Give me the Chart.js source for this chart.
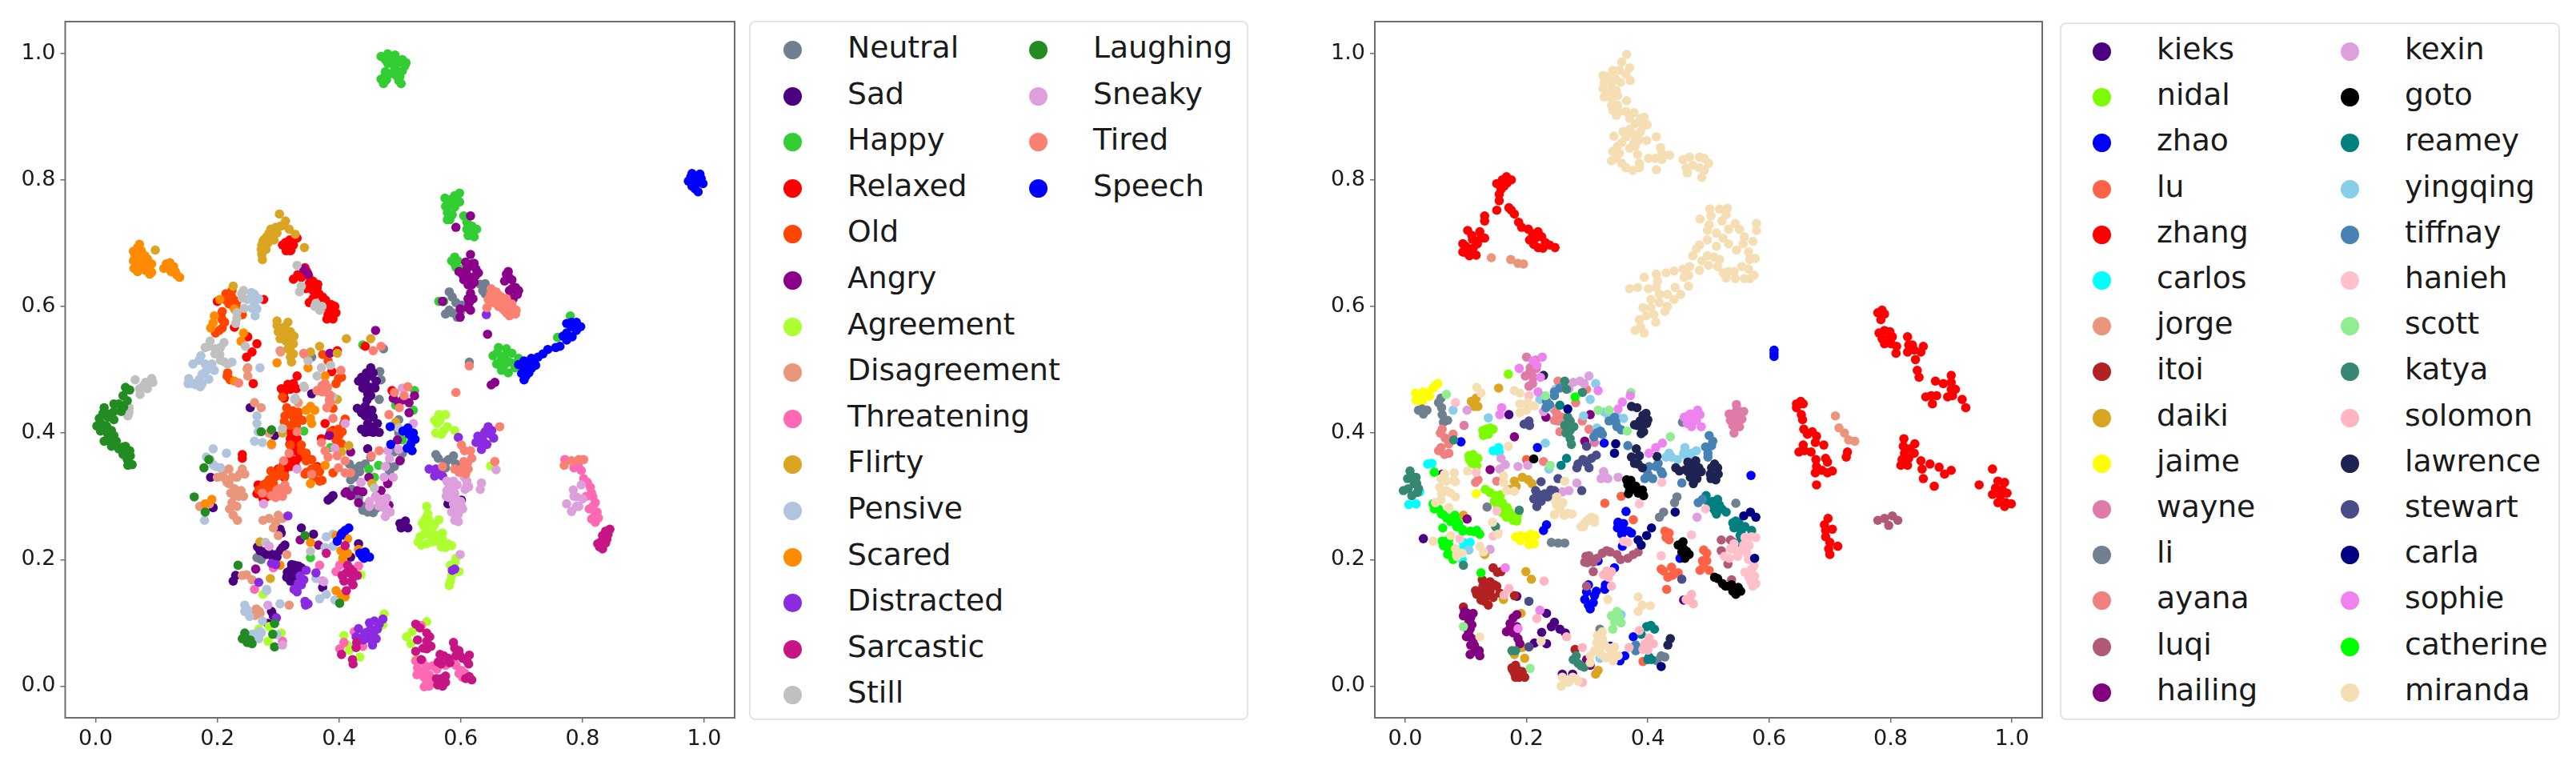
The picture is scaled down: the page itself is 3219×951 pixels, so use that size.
<!DOCTYPE html>
<html>
<head>
<meta charset="utf-8">
<title>Latent space scatter</title>
<script src="https://cdn.jsdelivr.net/npm/chart.js@4/dist/chart.umd.min.js"></script>
<style>
    html, body { margin: 0; padding: 0; background: #fff; }
    #figure { position: relative; width: 3219px; height: 951px; overflow: hidden; font-family: "DejaVu Sans", sans-serif; }
    canvas { position: absolute; top: 0; }
    #chartLeft { left: 0; }
    #chartRight { left: 1640px; }
    .legend { position: absolute; box-sizing: border-box; background: #fff; border: 2px solid #e4e4e4; border-radius: 8px; }
    #legendLeft { left: 936px; top: 26px; width: 624px; height: 874px; }
    #legendRight { left: 2574px; top: 28px; width: 625px; height: 872px; }
    .item { position: absolute; height: 50px; font-size: 37.7px; line-height: 50px; color: #1a1a1a; white-space: nowrap; }
    .dot { position: absolute; left: 0; top: 14px; width: 23px; height: 23px; border-radius: 50%; }
    .item span { position: absolute; left: 80px; top: -3px; }
</style>
</head>
<body>
<div id="figure">
    <canvas id="chartLeft" width="930" height="951"></canvas>
    <div class="legend" id="legendLeft"></div>
    <canvas id="chartRight" width="930" height="951"></canvas>
    <div class="legend" id="legendRight"></div>
</div>
<script>
    'use strict';

    var tickValues = [0, 0.2, 0.4, 0.6, 0.8, 1.0];

    // ----------------------------
    // Left plot, by expression
    // ----------------------------
    var expressions = ['Neutral', 'Sad', 'Happy', 'Relaxed', 'Old', 'Angry', 'Agreement', 'Disagreement', 'Threatening',
        'Flirty', 'Pensive', 'Scared', 'Distracted', 'Sarcastic', 'Still', 'Laughing', 'Sneaky', 'Tired', 'Speech'];
    var expressionColors = ['#708090', '#4B0082', '#32CD32', '#FF0000', '#FF4500', '#8B008B', '#ADFF2F', '#E9967A', '#FF69B4',
        '#DAA520', '#B0C4DE', '#FF8C00', '#8A2BE2', '#C71585', '#C0C0C0', '#228B22', '#DDA0DD', '#FA8072', '#0000FF'];

    var neutral = [[.581,.623],[.586,.615],[.592,.606],[.601,.602],[.581,.594],[.594,.583],[.640,.636],[.636,.625],[.614,.512],[.473,.533],
        [.467,.497],[.469,.484],[.466,.453],[.498,.421],[.493,.410],[.500,.391],[.498,.400],[.452,.362],[.443,.351],[.434,.339],[.491,.347],
        [.504,.368],[.483,.339],[.419,.326],[.426,.343],[.417,.351],[.419,.305],[.443,.284],[.439,.280],[.439,.278],[.456,.274],[.469,.284],
        [.428,.305],[.421,.311],[.559,.366],[.575,.354],[.588,.364],[.592,.351],[.272,.200],[.265,.203],[.355,.520],
        [.586,.590],[.600,.592],[.575,.588],[.640,.620],[.632,.635],[.563,.360],[.580,.358],[.610,.345],[.575,.345],[.460,.280],[.447,.275],
        [.432,.297],[.490,.370],[.480,.348],[.434,.348],[.425,.330],[.501,.358]];
    var sad = [[.452,.503],[.452,.490],[.443,.482],[.432,.482],[.461,.482],[.439,.471],[.452,.472],[.452,.459],[.430,.439],[.443,.442],
        [.454,.436],[.443,.427],[.456,.425],[.447,.415],[.463,.415],[.443,.401],[.456,.401],[.466,.401],[.254,.440],[.294,.396],[.355,.462],
        [.189,.330],[.193,.282],[.447,.375],[.382,.294],[.390,.301],[.386,.297],[.500,.257],[.509,.261],[.513,.250],[.502,.250],[.338,.250],
        [.303,.248],[.305,.242],[.432,.225],[.358,.240],[.307,.219],[.311,.223],[.270,.214],[.281,.208],[.290,.206],[.298,.204],[.327,.191],
        [.320,.183],[.318,.172],[.329,.181],[.338,.187],[.320,.166],[.327,.170],[.373,.156],[.289,.118],[.292,.111],[.283,.099],[.230,.175],
        [.226,.166],[.419,.204],[.579,.288],[.601,.294],
        [.448,.432],[.437,.432],[.452,.410],[.437,.406],[.450,.402],[.460,.402],[.446,.452],[.445,.495],[.456,.495],[.445,.474],[.459,.471],
        [.447,.462],[.437,.488],[.322,.192],[.333,.190],[.315,.180],[.325,.178],[.323,.166],[.330,.176],[.314,.172],[.276,.212],[.285,.212],
        [.296,.208],[.266,.220],[.304,.215]];
    var happy = [[.480,.999],[.469,.995],[.492,.997],[.504,.990],[.508,.980],[.480,.984],[.492,.976],[.476,.971],[.469,.959],[.473,.952],
        [.500,.963],[.502,.952],[.488,.988],[.574,.771],[.598,.779],[.582,.760],[.598,.765],[.578,.748],[.582,.737],[.605,.743],[.618,.727],
        [.618,.716],[.590,.678],[.590,.667],[.598,.659],[.572,.608],[.780,.585],[.759,.551],[.662,.535],[.653,.522],[.675,.533],[.684,.526],
        [.667,.516],[.680,.512],[.667,.499],[.689,.503],[.342,.403],[.449,.343],[.465,.349],[.458,.330],[.524,.467],[.522,.436],[.493,.444],
        [.439,.539],[.386,.377],[.504,.389],[.564,.608],[.353,.203],
        [.476,.990],[.486,.984],[.498,.986],[.486,.968],[.494,.965],[.504,.972],[.474,.962],[.478,.958],[.498,.957],[.510,.985],
        [.586,.770],[.590,.775],[.590,.757],[.575,.758],[.586,.745],[.578,.737],[.610,.733],[.610,.722],[.626,.722],[.622,.710],[.612,.712],
        [.585,.672],[.595,.672],[.592,.662],[.672,.522],[.660,.527],[.695,.518],[.672,.508],[.659,.509],[.690,.510],[.678,.495],[.698,.510]];
    var relaxed = [[.311,.699],[.325,.697],[.320,.688],[.307,.697],[.312,.701],[.331,.708],[.321,.689],[.344,.661],[.325,.643],[.338,.646],
        [.351,.636],[.364,.629],[.360,.619],[.373,.615],[.351,.606],[.382,.604],[.390,.596],[.390,.585],[.382,.587],[.368,.604],[.276,.611],
        [.200,.608],[.228,.567],[.265,.541],[.257,.528],[.248,.520],[.259,.478],[.250,.552],[.241,.366],[.241,.360],[.331,.490],[.325,.478],
        [.309,.463],[.320,.469],[.320,.402],[.320,.391],[.331,.391],[.333,.381],[.329,.356],[.320,.347],[.309,.351],[.300,.343],[.272,.314],
        [.281,.299],[.377,.415],[.371,.391],[.390,.404],[.397,.530],[.388,.497],[.487,.467],[.443,.537],[.364,.347],
        [.347,.655],[.332,.650],[.350,.648],[.357,.640],[.345,.628],[.355,.627],[.367,.620],[.378,.610],[.375,.600],[.387,.603],[.393,.600],
        [.385,.592],[.395,.590],[.380,.580],[.390,.580],[.365,.635],[.357,.612],[.316,.693],[.313,.688],[.319,.705],[.330,.470],[.316,.477],
        [.310,.455],[.305,.470],[.319,.382],[.327,.372],[.335,.362],[.320,.360],[.330,.345],[.310,.340],[.295,.335],[.280,.320],[.290,.310],
        [.310,.330],[.265,.304],[.275,.296],[.267,.318],[.287,.323]];
    var old = [[.224,.615],[.219,.604],[.232,.608],[.208,.592],[.208,.579],[.208,.566],[.197,.558],[.241,.587],[.224,.625],[.217,.495],
        [.221,.484],[.307,.457],[.314,.440],[.325,.425],[.311,.427],[.333,.425],[.320,.412],[.320,.381],[.338,.381],[.346,.368],[.346,.356],
        [.338,.372],[.355,.343],[.344,.335],[.368,.339],[.368,.324],[.303,.343],[.285,.326],[.276,.318],[.294,.330],[.285,.313],[.311,.332],
        [.386,.402],[.399,.406],[.395,.389],[.404,.383],[.390,.439],[.410,.422],[.399,.486],[.395,.478],[.404,.488],[.382,.514],[.373,.524],
        [.390,.337],
        [.214,.620],[.214,.610],[.226,.600],[.232,.598],[.206,.585],[.212,.575],[.203,.562],[.216,.490],[.316,.432],[.324,.435],[.333,.433],
        [.310,.418],[.330,.412],[.340,.420],[.327,.418],[.345,.365],[.355,.358],[.358,.330],[.362,.345],[.347,.338],[.372,.325],[.300,.333],
        [.292,.320],[.275,.308],[.283,.305],[.268,.310],[.288,.340],[.392,.396],[.400,.396],[.408,.415],[.405,.402]];
    var angry = [[.616,.682],[.618,.667],[.610,.659],[.625,.659],[.597,.655],[.605,.642],[.616,.646],[.629,.653],[.618,.634],[.616,.621],
        [.614,.606],[.616,.594],[.570,.608],[.599,.596],[.599,.583],[.675,.651],[.684,.642],[.680,.625],[.693,.619],[.616,.743],[.592,.725],
        [.342,.659],[.349,.651],[.460,.562],[.644,.556],[.656,.480],[.650,.476],[.385,.526],[.524,.459],[.489,.455],[.498,.448],[.515,.448],
        [.515,.432],[.504,.452],[.496,.389],[.500,.356],[.480,.322],[.384,.396],[.419,.370],[.410,.305],[.419,.301],[.430,.309],[.439,.307],
        [.432,.290],[.469,.309],[.449,.330],[.412,.307],[.480,.320],[.482,.286],[.366,.223],[.336,.231],[.263,.185],
        [.608,.670],[.622,.668],[.610,.650],[.624,.648],[.603,.650],[.612,.634],[.622,.638],[.612,.612],[.620,.612],[.612,.598],[.680,.645],
        [.672,.640],[.690,.630],[.684,.628],[.678,.655],[.686,.612],[.695,.625]];
    var agreement = [[.564,.429],[.575,.429],[.561,.415],[.559,.400],[.572,.404],[.590,.404],[.544,.284],[.542,.265],[.564,.263],[.540,.252],
        [.553,.250],[.548,.240],[.570,.242],[.533,.236],[.544,.225],[.561,.229],[.535,.223],[.575,.219],[.579,.225],[.592,.202],[.583,.191],
        [.597,.181],[.583,.166],[.581,.159],[.436,.176],[.275,.145],[.285,.094],[.283,.071],[.305,.084],[.268,.090],[.474,.114],[.472,.097],
        [.408,.080],[.414,.065],[.417,.057],[.434,.046],[.544,.102],[.511,.078],[.520,.086],[.518,.067],[.526,.042],[.649,.348],
        [.537,.258],[.546,.272],[.548,.262],[.557,.255],[.540,.240],[.555,.240],[.562,.238],[.530,.228],[.553,.228],[.570,.232],[.585,.222],
        [.568,.220],[.590,.195],[.585,.175],[.578,.410],[.566,.420],[.557,.420],[.568,.398]];
    var disagreement = [[.250,.503],[.250,.490],[.261,.448],[.272,.440],[.285,.400],[.289,.381],[.200,.330],[.210,.339],[.219,.343],[.224,.330],
        [.237,.335],[.241,.343],[.239,.309],[.228,.301],[.224,.290],[.232,.284],[.171,.284],[.187,.288],[.364,.467],[.333,.448],[.303,.530],
        [.285,.265],[.296,.259],[.307,.265],[.300,.238],[.314,.208],[.265,.118],[.270,.115],[.318,.128],[.241,.175],[.257,.168],[.269,.118],
        [.304,.528],[.343,.524],[.249,.501],
        [.205,.345],[.216,.322],[.210,.330],[.232,.330],[.219,.320],[.245,.335],[.220,.280],[.235,.300],[.243,.300],[.226,.270],[.233,.262],
        [.222,.305],[.228,.312],[.275,.262],[.292,.250],[.300,.270],[.248,.176],[.264,.122],[.258,.115],[.262,.112]];
    var threatening = [[.771,.358],[.798,.341],[.802,.328],[.813,.314],[.817,.299],[.817,.284],[.821,.271],[.821,.259],[.368,.191],[.395,.181],
        [.425,.086],[.439,.063],[.408,.069],[.401,.059],[.535,.096],[.529,.029],[.544,.031],[.535,.023],[.548,.018],[.544,.006],[.561,.027],
        [.588,.040],[.601,.025],[.603,.014],[.307,.071],[.292,.187],[.401,.191],[.432,.190],[.373,.166],[.261,.153],
        [.806,.300],[.821,.290],[.808,.322],[.811,.280],[.826,.266],[.824,.275],[.815,.305],[.786,.345],[.815,.264],[.793,.350],[.526,.040],
        [.537,.040],[.554,.032],[.528,.018],[.540,.014],[.554,.012],[.548,.000],[.540,-.001],[.575,.033],[.597,.020],[.607,.020],[.592,.033]];
    var flirty = [[.302,.746],[.312,.735],[.304,.727],[.288,.722],[.281,.710],[.292,.714],[.273,.697],[.273,.682],[.274,.674],[.328,.714],
        [.343,.693],[.098,.689],[.226,.632],[.298,.577],[.316,.575],[.307,.562],[.320,.560],[.303,.549],[.320,.547],[.316,.533],[.320,.520],
        [.322,.512],[.412,.549],[.452,.549],[.368,.537],[.397,.526],[.353,.528],[.397,.453],[.493,.417],[.307,.400],[.416,.380],[.404,.370],
        [.454,.320],[.287,.170],[.270,.228],
        [.308,.728],[.296,.725],[.298,.716],[.285,.716],[.276,.705],[.283,.700],[.272,.690],[.280,.690],[.275,.703],[.293,.705],[.318,.722],
        [.311,.568],[.300,.560],[.312,.555],[.326,.553],[.298,.570],[.313,.545],[.325,.541],[.320,.530],[.325,.525]];
    var pensive = [[.261,.619],[.250,.611],[.261,.606],[.265,.596],[.173,.522],[.160,.509],[.191,.509],[.182,.499],[.175,.493],[.153,.486],
        [.165,.476],[.175,.478],[.270,.503],[.224,.512],[.265,.427],[.265,.415],[.261,.387],[.274,.385],[.267,.402],[.193,.375],[.182,.362],
        [.197,.347],[.215,.368],[.379,.236],[.390,.240],[.390,.221],[.377,.219],[.362,.170],[.281,.151],[.368,.138],[.379,.145],[.393,.136],
        [.303,.130],[.274,.103],[.265,.078],[.272,.084],[.298,.081],[.245,.128],[.269,.086],[.257,.082],[.281,.153],[.179,.262],
        [.170,.515],[.180,.509],[.195,.499],[.170,.484],[.160,.478],[.172,.473],[.186,.485],[.152,.478],[.256,.622],[.268,.612],[.257,.597],
        [.262,.585],[.188,.358],[.193,.350],[.205,.345],[.272,.085],[.260,.076],[.268,.075],[.250,.120],[.253,.110],[.245,.118],[.258,.075]];
    var scared = [[.069,.693],[.065,.680],[.081,.680],[.069,.667],[.069,.655],[.089,.651],[.092,.667],[.116,.667],[.128,.663],[.124,.655],
        [.138,.646],[.080,.665],[.204,.611],[.195,.585],[.193,.574],[.189,.566],[.228,.596],[.243,.558],[.239,.545],[.298,.511],[.353,.442],
        [.346,.436],[.360,.436],[.353,.423],[.355,.415],[.349,.503],[.377,.490],[.228,.482],[.289,.383],[.377,.349],[.353,.320],[.353,.227],
        [.395,.238],[.414,.233],[.403,.214],[.414,.210],[.406,.202],[.432,.216],[.395,.151],[.403,.145],[.410,.141],[.303,.191],[.180,.288],
        [.191,.295],
        [.072,.698],[.062,.687],[.075,.688],[.085,.675],[.073,.674],[.062,.672],[.076,.660],[.082,.657],[.092,.654],[.063,.660],[.122,.669],
        [.131,.655],[.133,.650],[.112,.660]];
    var distracted = [[.640,.402],[.649,.398],[.636,.389],[.636,.381],[.632,.391],[.596,.393],[.548,.343],[.559,.343],[.557,.332],[.570,.332],
        [.642,.587],[.316,.269],[.362,.179],[.289,.194],[.296,.192],[.346,.183],[.336,.174],[.338,.160],[.331,.149],[.344,.134],[.349,.130],
        [.268,.164],[.297,.108],[.586,.183],[.590,.185],[.458,.103],[.452,.090],[.461,.075],[.450,.075],[.432,.091],[.428,.078],[.472,.106],
        [.645,.410],[.628,.395],[.654,.392],[.634,.374],[.643,.382],[.651,.404],[.638,.398],[.625,.385],[.445,.085],[.458,.078],[.463,.090],
        [.466,.098],[.450,.100],[.455,.065],[.441,.080],[.440,.073],[.333,.162],[.342,.168],[.326,.153],[.345,.128],[.563,.338]];
    var sarcastic = [[.845,.248],[.833,.238],[.825,.225],[.833,.217],[.379,.210],[.410,.222],[.414,.191],[.423,.181],[.412,.179],[.423,.172],
        [.408,.166],[.423,.160],[.412,.151],[.429,.069],[.428,.061],[.404,.050],[.422,.042],[.423,.035],[.526,.098],[.544,.084],[.544,.071],
        [.529,.073],[.544,.059],[.526,.055],[.535,.042],[.566,.050],[.568,.035],[.579,.044],[.588,.069],[.597,.056],[.592,.048],[.603,.044],
        [.614,.049],[.613,.035],[.568,.012],[.566,.004],[.575,.006],[.614,.015],
        [.842,.240],[.838,.226],[.828,.220],[.838,.245],[.830,.228],[.840,.232],[.533,.092],[.538,.060],[.549,.078],[.551,.063],[.582,.037],
        [.563,.038],[.572,.048],[.590,.060],[.598,.050],[.610,.040],[.560,.012],[.575,.016],[.562,.002],[.570,.000],[.608,.012],[.618,.010],
        [.418,.186],[.420,.165],[.405,.175],[.430,.175]];
    var still = [[.094,.480],[.065,.484],[.092,.486],[.078,.474],[.073,.461],[.053,.427],[.243,.625],[.241,.613],[.244,.597],[.232,.581],
        [.230,.573],[.331,.665],[.338,.632],[.335,.623],[.360,.600],[.368,.594],[.188,.545],[.180,.535],[.197,.533],[.211,.543],[.204,.524],
        [.217,.509],[.246,.537],[.349,.514],[.371,.503],[.386,.507],[.364,.490],[.342,.474],[.327,.453],[.390,.457],[.307,.407],[.498,.408],
        [.458,.313],[.353,.213],[.279,.227],[.343,.472],[.328,.455],
        [.072,.470],[.085,.470],[.082,.480],[.055,.440],[.055,.433],[.196,.525],[.186,.537],[.205,.535],[.205,.515],[.212,.512],[.362,.605],
        [.372,.600],[.240,.620],[.232,.590]];
    var laughing = [[.049,.472],[.045,.459],[.038,.446],[.042,.434],[.014,.440],[.006,.423],[.030,.421],[.002,.411],[.026,.404],[.014,.387],
        [.034,.387],[.026,.379],[.049,.379],[.045,.366],[.057,.364],[.053,.349],[.030,.434],[.018,.411],[.030,.396],[.186,.358],[.178,.345],
        [.272,.402],[.289,.405],[.162,.299],[.180,.275],[.344,.238],[.401,.131],[.294,.099],[.291,.082],[.294,.062],[.245,.084],[.249,.069],
        [.257,.067],[.241,.075],[.234,.191],
        [.056,.468],[.052,.451],[.046,.441],[.030,.446],[.012,.431],[.020,.425],[.010,.414],[.020,.398],[.008,.403],[.024,.388],[.038,.375],
        [.056,.372],[.052,.358],[.060,.350],[.045,.378],[.024,.430],[.246,.076],[.254,.073]];
    var sneaky = [[.410,.415],[.276,.288],[.331,.343],[.480,.372],[.483,.360],[.476,.347],[.498,.374],[.393,.376],[.474,.330],[.489,.330],
        [.436,.322],[.522,.415],[.504,.471],[.577,.324],[.588,.324],[.577,.309],[.586,.309],[.610,.324],[.607,.311],[.634,.321],[.632,.311],
        [.658,.342],[.588,.288],[.601,.284],[.450,.292],[.465,.295],[.478,.297],[.469,.284],[.478,.280],[.450,.284],[.478,.278],[.436,.322],
        [.465,.295],[.579,.322],[.590,.305],[.610,.316],[.599,.288],[.590,.282],[.603,.280],[.592,.271],[.599,.208],[.285,.221],[.375,.165],
        [.283,.128],[.307,.065],[.790,.299],[.798,.318],[.774,.288],[.794,.284],
        [.582,.316],[.594,.318],[.606,.330],[.613,.315],[.580,.298],[.592,.296],[.576,.300],[.585,.275],[.600,.292],[.596,.272],[.596,.260],
        [.590,.262],[.785,.310],[.790,.284],[.786,.300],[.800,.296],[.782,.276],[.465,.285],[.460,.300],[.475,.290],[.484,.275],[.476,.268]];
    var tired = [[.649,.619],[.658,.623],[.645,.611],[.667,.615],[.671,.604],[.682,.596],[.680,.585],[.662,.600],[.643,.598],[.691,.594],
        [.614,.506],[.592,.464],[.664,.410],[.456,.530],[.469,.537],[.491,.464],[.507,.459],[.513,.473],[.499,.440],[.482,.429],[.453,.364],
        [.466,.372],[.399,.345],[.410,.337],[.419,.337],[.410,.356],[.397,.364],[.377,.478],[.377,.465],[.384,.452],[.403,.499],[.342,.526],
        [.364,.467],[.331,.402],[.390,.423],[.371,.385],[.377,.372],[.382,.362],[.309,.356],[.318,.368],[.303,.305],[.311,.318],[.289,.301],
        [.274,.305],[.355,.335],[.235,.479],[.570,.347],[.590,.343],[.601,.343],[.612,.343],[.616,.372],[.618,.360],[.601,.381],[.656,.355],
        [.782,.356],[.794,.358],[.770,.349],[.802,.358],
        [.655,.612],[.665,.608],[.675,.612],[.670,.595],[.684,.604],[.690,.588],[.675,.590],[.654,.606],[.650,.628],[.662,.618],[.676,.598],
        [.597,.338],[.608,.335],[.605,.355],[.611,.352],[.606,.372],[.302,.312],[.307,.300],[.296,.298],[.315,.310],[.298,.310],[.385,.448],
        [.380,.440],[.381,.472],[.385,.460],[.372,.475],[.372,.465]];
    var speech = [[.978,.805],[.993,.809],[.974,.798],[.998,.794],[.987,.794],[.990,.781],[.774,.573],[.790,.575],[.790,.562],[.774,.558],
        [.774,.547],[.763,.537],[.743,.532],[.727,.520],[.704,.514],[.723,.507],[.704,.501],[.712,.495],[.704,.484],[.484,.410],[.513,.408],
        [.522,.400],[.518,.383],[.520,.372],[.485,.382],[.410,.246],[.403,.238],[.397,.229],[.434,.210],[.441,.202],[.450,.204],
        [.983,.802],[.990,.800],[.980,.790],[.995,.802],[.985,.786],[.980,.810],[.782,.568],[.797,.568],[.782,.575],[.768,.553],[.783,.552],
        [.756,.535],[.735,.525],[.716,.518],[.695,.508],[.708,.508],[.718,.513],[.700,.494],[.716,.502],[.707,.490],[.712,.504],[.515,.398],
        [.525,.390],[.520,.392],[.512,.376],[.505,.403],[.416,.250],[.405,.242],[.438,.205],[.443,.212]];

    // ----------------------------
    // Right plot, by speaker
    // ----------------------------
    var speakers = ['kieks', 'nidal', 'zhao', 'lu', 'zhang', 'carlos', 'jorge', 'itoi', 'daiki', 'jaime', 'wayne', 'li', 'ayana', 'luqi', 'hailing',
        'kexin', 'goto', 'reamey', 'yingqing', 'tiffnay', 'hanieh', 'scott', 'katya', 'solomon', 'lawrence', 'stewart', 'carla', 'sophie', 'catherine', 'miranda'];
    var speakerColors = ['#4B0082', '#7CFC00', '#0000FF', '#FF6347', '#FF0000', '#00FFFF', '#E9967A', '#B22222', '#DAA520', '#FFFF00', '#DE7BA8', '#708090', '#F08080', '#B05A78', '#800080',
        '#DDA0DD', '#000000', '#008080', '#87CEEB', '#4682B4', '#FFC0CB', '#90EE90', '#368872', '#FFB6C1', '#1F2352', '#484C88', '#000080', '#EE82EE', '#00FF00', '#F5DEB3'];

    var kieks = [[.171,.429],[.061,.335],[.030,.233],[.184,.142],[.233,.115],[.246,.101],[.241,.094],[.255,.090],[.264,.084],[.225,.085],
        [.213,.068],[.233,.067],[.259,.019],[.276,.019],[.459,.136]];
    var nidal = [[.170,.493],[.134,.406],[.145,.406],[.129,.396],[.112,.366],[.120,.360],[.114,.354],[.149,.301],[.156,.292],[.162,.284],
        [.171,.276],[.167,.267],[.184,.263],[.151,.288],[.184,.261],[.132,.311],
        [.128,.404],[.137,.398],[.140,.408],[.105,.364],[.110,.352],[.118,.348],[.106,.358],[.140,.306],[.150,.296],[.147,.292],[.157,.302],
        [.160,.274],[.168,.282],[.175,.270],[.178,.262],[.153,.282],[.160,.290],[.186,.272]];
    var zhao = [[.608,.526],[.608,.531],[.608,.521],[.092,.386],[.218,.377],[.328,.384],[.570,.333],[.364,.276],[.351,.259],[.358,.250],[.233,.255],[.228,.246],
        [.351,.257],[.360,.246],[.373,.242],[.358,.221],[.345,.187],[.329,.153],[.299,.149],[.312,.143],[.296,.137],[.310,.132],[.305,.122],
        [.376,.078],[.354,.040],[.362,.048],[.338,.063],[.453,.202],[.318,.198],
        [.330,.160],[.302,.160],[.315,.150],[.302,.128],[.350,.250],[.368,.245],[.360,.257],[.357,.240]];
    var lu = [[.329,.289],[.376,.263],[.356,.300],[.200,.358],[.435,.242],[.435,.231],[.422,.185],[.439,.188],[.450,.179],[.433,.172],
        [.431,.153],[.497,.210],[.490,.198],[.486,.183],[.501,.183],[.392,.039],
        [.430,.235],[.428,.245],[.426,.182],[.445,.178],[.440,.175],[.492,.215],[.492,.190],[.497,.198]];
    var zhang = [[.167,.805],[.175,.800],[.151,.794],[.163,.790],[.155,.777],[.155,.767],[.151,.752],[.131,.743],[.131,.735],[.171,.756],
        [.180,.746],[.187,.733],[.203,.722],[.219,.718],[.215,.708],[.231,.701],[.219,.693],[.247,.693],[.103,.720],[.123,.718],[.131,.708],
        [.111,.706],[.095,.699],[.119,.699],[.095,.686],[.106,.680],[.117,.681],[.160,.800],[.168,.795],[.158,.785],[.175,.752],[.192,.725],
        [.210,.715],[.205,.705],[.225,.710],[.238,.697],[.212,.698],[.227,.692],[.110,.712],[.100,.695],[.112,.692],[.125,.708],[.100,.685],
        [.779,.590],[.786,.594],[.790,.588],[.784,.579],[.781,.558],[.790,.562],[.799,.560],[.786,.549],[.795,.549],[.803,.552],[.790,.541],
        [.801,.541],[.810,.537],[.809,.526],[.828,.552],[.830,.539],[.836,.539],[.828,.528],[.839,.531],[.841,.516],[.854,.537],[.850,.528],
        [.844,.499],[.847,.488],[.874,.482],[.887,.478],[.900,.491],[.900,.480],[.907,.469],[.900,.469],[.867,.459],[.858,.457],[.876,.459],
        [.869,.446],[.894,.457],[.902,.459],[.918,.453],[.924,.440],[.645,.446],[.652,.450],[.656,.446],[.645,.440],[.653,.429],[.655,.421],
        [.657,.406],[.663,.398],[.671,.402],[.678,.395],[.676,.385],[.656,.381],[.649,.370],[.658,.372],[.669,.370],[.677,.358],[.690,.381],
        [.693,.360],[.696,.354],[.678,.347],[.676,.337],[.687,.341],[.696,.337],[.704,.340],[.678,.318],[.729,.370],[.727,.362],[.822,.391],
        [.821,.379],[.840,.383],[.832,.375],[.823,.368],[.839,.368],[.819,.358],[.830,.360],[.817,.349],[.828,.349],[.850,.356],[.852,.343],
        [.865,.351],[.854,.328],[.872,.316],[.880,.346],[.889,.335],[.900,.341],[.968,.343],[.946,.318],[.977,.324],[.988,.322],[.973,.313],
        [.984,.311],[.968,.303],[.981,.301],[.992,.305],[.977,.290],[.990,.290],[.999,.288],[.988,.284],[.697,.265],[.691,.255],[.704,.248],
        [.693,.246],[.693,.236],[.700,.227],[.713,.221],[.698,.217],[.700,.208]];
    var carlos = [[.037,.351],[.044,.352],[.145,.372],[.154,.377],[.006,.287],[.018,.288],[.024,.307],[.096,.227],[.107,.227],[.094,.217],
        [.094,.200],[.155,.370],[.100,.218]];
    var jorge = [[.142,.677],[.174,.674],[.186,.668],[.195,.667],[.709,.427],[.715,.408],[.724,.400],[.731,.389],[.741,.387]];
    var itoi = [[.145,.187],[.158,.181],[.127,.168],[.123,.149],[.134,.156],[.136,.143],[.131,.134],[.147,.160],[.116,.151],[.151,.158],
        [.156,.147],[.180,.143],[.096,.125],[.182,.033],[.180,.021],[.193,.023],[.197,.014],[.182,.014],[.280,.058],
        [.128,.158],[.132,.150],[.118,.145],[.125,.136],[.140,.150],[.145,.140],[.133,.162],[.140,.165],[.125,.142],[.137,.128],[.152,.180],
        [.176,.029],[.186,.025],[.188,.014],[.177,.026]];
    var daiki = [[.154,.471],[.109,.450],[.114,.442],[.120,.442],[.180,.324],[.193,.330],[.173,.311],[.209,.320],[.096,.270],[.131,.208],
        [.162,.137],[.199,.181],[.208,.169],[.191,.115],[.193,.061],[.197,.044],[.318,.025],[.314,.019],[.183,.316],[.203,.326],[.117,.455],
        [.180,.050]];
    var jaime = [[.054,.478],[.046,.471],[.037,.463],[.026,.459],[.017,.463],[.024,.451],[.117,.304],[.182,.236],[.197,.236],[.206,.231],
        [.213,.225],[.215,.238],[.040,.458],[.030,.465],[.028,.450],[.050,.475],[.018,.452],[.190,.230],[.204,.224],[.190,.238],[.207,.240]];
    var wayne = [[.200,.520],[.206,.503],[.211,.488],[.204,.474],[.547,.438],[.534,.430],[.549,.427],[.543,.419],[.551,.410],[.558,.434],
        [.097,.412],[.312,.385],[.215,.515],[.208,.495],[.216,.502],[.198,.490],[.210,.478],[.205,.495],[.540,.412],[.555,.422],[.536,.420],
        [.544,.432],[.546,.445],[.542,.400]];
    var li = [[.059,.455],[.028,.438],[.061,.429],[.063,.417],[.457,.417],[.135,.283],[.426,.275],[.419,.267],[.448,.299],[.444,.290],
        [.545,.289],[.241,.227],[.252,.226],[.263,.226],[.321,.090],[.422,.048],[.428,.046],[.415,.040],
        [.030,.430],[.022,.436],[.036,.436],[.060,.440],[.055,.448],[.070,.420]];
    var ayana = [[.252,.482],[.250,.431],[.252,.419],[.255,.402],[.281,.448],[.061,.406],[.079,.398],[.072,.383],[.059,.377],[.072,.368],
        [.228,.355],[.116,.322],[.120,.326],[.151,.324],[.303,.406],[.292,.419],[.299,.469],[.058,.400],[.066,.392],[.055,.372],[.065,.366],
        [.245,.438],[.258,.425],[.246,.420]];
    var luqi = [[.303,.206],[.296,.196],[.310,.196],[.316,.202],[.310,.181],[.338,.212],[.349,.208],[.367,.202],[.376,.208],[.384,.212],
        [.299,.158],[.521,.231],[.536,.231],[.521,.214],[.532,.193],[.538,.168],[.779,.262],[.790,.265],[.803,.269],[.812,.262],[.797,.254],
        [.325,.210],[.332,.214],[.300,.195],[.298,.205],[.355,.200],[.540,.228]];
    var hailing = [[.180,.394],[.102,.264],[.140,.342],[.296,.387],[.305,.429],[.232,.425],[.103,.115],[.096,.111],[.112,.115],[.105,.101],
        [.107,.090],[.107,.078],[.114,.065],[.107,.050],[.123,.048],[.118,.057],[.184,.113],[.173,.099],[.184,.094],[.167,.086],[.178,.084],
        [.186,.075],[.189,.067],[.305,.033],[.299,.042],[.098,.118],[.108,.108],[.110,.097],[.104,.088],[.101,.078],[.112,.074],[.115,.055],
        [.108,.065],[.122,.056],[.178,.108],[.172,.090],[.182,.086]];
    var kexin = [[.288,.482],[.277,.480],[.303,.490],[.102,.436],[.228,.434],[.158,.360],[.156,.343],[.186,.347],[.202,.349],[.259,.307],
        [.270,.309],[.327,.339],[.323,.328],[.334,.328],[.351,.330],[.283,.321],[.481,.267],[.140,.216],[.165,.350],[.295,.478],[.270,.470],
        [.328,.334]];
    var gotoPts = [[.212,.359],[.365,.326],[.367,.318],[.373,.311],[.384,.305],[.393,.301],[.450,.223],[.459,.217],[.468,.208],[.461,.202],
        [.510,.172],[.523,.162],[.534,.158],[.549,.156],[.545,.145],[.370,.310],[.372,.325],[.380,.316],[.368,.304],[.391,.310],[.456,.212],
        [.464,.213],[.458,.228],[.515,.170],[.528,.158],[.540,.150],[.553,.150],[.538,.160]];
    var reamey = [[.255,.444],[.266,.360],[.257,.349],[.496,.301],[.507,.292],[.518,.286],[.510,.278],[.529,.275],[.545,.261],[.551,.250],
        [.554,.240],[.545,.259],[.554,.246],[.571,.246],[.398,.094],[.411,.090],[.389,.082],[.402,.046],[.406,.042],
        [.505,.283],[.515,.295],[.500,.290],[.522,.280],[.513,.272],[.542,.250],[.550,.258],[.540,.258],[.560,.252],[.556,.232],[.550,.226],
        [.552,.238],[.405,.096],[.400,.042]];
    var yingqing = [[.314,.478],[.248,.469],[.222,.453],[.305,.453],[.237,.442],[.079,.436],[.137,.424],[.294,.427],[.231,.384],[.316,.408],
        [.360,.423],[.435,.368],[.439,.362],[.461,.377],[.459,.368],[.472,.368],[.237,.343],[.105,.215],[.356,.113],[.321,.044],
        [.449,.358],[.430,.362],[.462,.365],[.470,.360],[.480,.372],[.350,.425],[.335,.428],[.328,.433]];
    var tiffnay = [[.255,.471],[.246,.459],[.233,.450],[.345,.425],[.336,.419],[.349,.410],[.316,.400],[.325,.398],[.367,.380],[.501,.396],
        [.507,.387],[.499,.368],[.499,.362],[.413,.347],[.422,.339],[.400,.335],[.395,.328],[.456,.321],[.483,.290],[.351,.106],[.380,.056],
        [.380,.065],[.246,.465],[.238,.445],[.232,.440],[.347,.417],[.356,.405],[.322,.403],[.311,.394],[.505,.380],[.495,.378],[.402,.347],
        [.417,.352],[.408,.328],[.424,.335],[.490,.295]];
    var hanieh = [[.204,.459],[.083,.448],[.117,.338],[.151,.277],[.423,.322],[.386,.288],[.495,.280],[.090,.233],[.153,.242],[.145,.237],
        [.360,.229],[.367,.227],[.422,.206],[.472,.239],[.536,.217],[.545,.215],[.534,.202],[.558,.223],[.571,.236],[.563,.210],[.571,.185],
        [.567,.172],[.576,.174],[.573,.158],[.555,.215],[.567,.222],[.560,.235],[.578,.235],[.548,.205],[.542,.225],[.566,.200],[.560,.180],
        [.575,.190],[.570,.165],[.578,.162],[.526,.205]];
    var scott = [[.068,.461],[.318,.436],[.336,.436],[.372,.464],[.437,.394],[.366,.403],[.239,.349],[.231,.459],[.349,.118],[.340,.111],
        [.356,.100],[.342,.090],[.096,.094],[.206,.028],[.345,.102],[.352,.110]];
    var katya = [[.263,.482],[.266,.469],[.292,.464],[.272,.419],[.263,.412],[.272,.404],[.272,.391],[.080,.389],[.015,.330],[.004,.328],
        [.019,.320],[.011,.301],[-.003,.309],[.188,.278],[.149,.252],[.096,.191],[.182,.056],[.176,.056],[.277,.042],[.285,.036],
        [.008,.340],[.015,.320],[.005,.312],[.018,.330],[.020,.306],[.022,.312],[.265,.400],[.278,.410],[.268,.425],[.274,.382],[.290,.032],
        [.282,.048],[.295,.030]];
    var solomon = [[.171,.154],[.163,.144],[.229,.166],[.217,.107],[.266,.078],[.292,.061],[.369,.061],[.386,.088],[.395,.067],[.409,.067],
        [.400,.057],[.472,.145],[.463,.137],[.292,.006],[.340,.158],[.327,.176],[.340,.181],[.400,.070],[.392,.058],[.402,.076],[.470,.135],
        [.475,.130],[.332,.182],[.335,.172]];
    var lawrence = [[.228,.491],[.397,.431],[.387,.419],[.400,.421],[.378,.413],[.389,.410],[.389,.399],[.373,.442],[.382,.440],[.381,.375],
        [.373,.362],[.384,.351],[.391,.345],[.415,.363],[.446,.345],[.466,.354],[.479,.356],[.466,.339],[.477,.339],[.475,.320],[.488,.339],
        [.510,.351],[.516,.335],[.503,.335],[.437,.075],[.433,.065],[.392,.428],[.382,.412],[.398,.415],[.393,.402],[.452,.340],[.462,.342],
        [.470,.330],[.484,.345],[.475,.345],[.470,.348],[.481,.328],[.505,.345],[.515,.345],[.512,.326],[.504,.328],[.386,.364],[.378,.352]];
    var stewart = [[.204,.419],[.299,.379],[.285,.351],[.299,.353],[.307,.360],[.224,.323],[.252,.328],[.215,.309],[.291,.309],[.246,.309],
        [.235,.299],[.224,.292],[.217,.284],[.204,.134],[.456,.169],[.204,.062],[.212,.296],[.222,.302],[.230,.304],[.240,.310],[.293,.358],
        [.303,.345],[.315,.365],[.283,.345],[.205,.412],[.196,.414]];
    var carla = [[.347,.383],[.345,.368],[.268,.438],[.569,.275],[.558,.269],[.578,.267],[.445,.275],[.406,.250],[.398,.238],[.389,.223],
        [.384,.231],[.576,.202],[.422,.031]];
    var sophie = [[.226,.520],[.211,.514],[.217,.507],[.188,.502],[.223,.488],[.219,.465],[.318,.467],[.159,.440],[.156,.429],[.371,.459],
        [.358,.449],[.351,.438],[.466,.427],[.477,.429],[.486,.429],[.475,.419],[.472,.410],[.488,.410],[.424,.384],[.413,.377],[.402,.368],
        [.165,.187],[.222,.120],[.186,.091],[.482,.436],[.460,.425],[.470,.430],[.480,.420],[.465,.415]];
    var catherine = [[.280,.457],[.048,.338],[.046,.288],[.055,.280],[.063,.271],[.074,.265],[.085,.261],[.062,.250],[.085,.252],[.088,.257],
        [.094,.248],[.114,.244],[.123,.240],[.061,.229],[.072,.223],[.072,.215],[.079,.200],[.125,.179],[.048,.280],[.060,.272],[.068,.266],
        [.075,.260],[.082,.270],[.095,.245],[.107,.245],[.118,.246],[.072,.232],[.063,.222],[.070,.208]];
    var miranda = [[.365,.998],[.357,.986],[.370,.977],[.342,.973],[.353,.973],[.326,.965],[.364,.967],[.371,.957],[.335,.963],[.346,.960],
        [.355,.954],[.328,.954],[.340,.952],[.326,.944],[.337,.941],[.348,.941],[.328,.931],[.340,.929],[.350,.933],[.365,.925],[.340,.918],
        [.350,.918],[.342,.910],[.353,.908],[.348,.902],[.364,.908],[.377,.906],[.370,.897],[.394,.899],[.388,.897],[.399,.887],[.392,.885],
        [.379,.889],[.344,.869],[.359,.876],[.370,.880],[.364,.868],[.377,.872],[.388,.876],[.386,.863],[.398,.862],[.414,.868],[.357,.859],
        [.377,.859],[.350,.853],[.370,.850],[.379,.853],[.342,.845],[.353,.842],[.383,.840],[.348,.834],[.340,.830],[.357,.826],[.386,.826],
        [.364,.819],[.375,.815],[.386,.819],[.421,.851],[.423,.842],[.436,.839],[.401,.834],[.412,.834],[.423,.832],[.414,.816],[.458,.832],
        [.469,.836],[.485,.836],[.493,.834],[.500,.826],[.463,.819],[.465,.811],[.474,.823],[.485,.819],[.493,.815],[.489,.804],
        [.502,.754],[.518,.754],[.531,.755],[.504,.743],[.529,.745],[.522,.735],[.486,.738],[.544,.731],[.501,.729],[.498,.720],[.533,.722],
        [.551,.722],[.579,.731],[.579,.720],[.513,.716],[.559,.710],[.573,.703],[.557,.699],[.524,.708],[.533,.699],[.498,.705],[.485,.697],
        [.513,.695],[.546,.689],[.480,.691],[.566,.686],[.474,.680],[.498,.680],[.509,.678],[.489,.672],[.518,.674],[.577,.676],[.568,.674],
        [.555,.663],[.500,.665],[.515,.663],[.469,.663],[.458,.659],[.485,.657],[.566,.659],[.524,.653],[.533,.655],[.542,.655],[.575,.649],
        [.559,.644],[.568,.644],[.529,.645],[.544,.644],[.443,.656],[.430,.653],[.414,.651],[.467,.649],[.460,.646],[.394,.646],[.467,.632],
        [.416,.640],[.370,.628],[.383,.630],[.401,.628],[.414,.630],[.445,.630],[.454,.619],[.419,.619],[.432,.619],[.443,.611],[.405,.611],
        [.419,.606],[.432,.600],[.392,.598],[.405,.598],[.428,.592],[.397,.585],[.410,.587],[.386,.579],[.413,.575],[.388,.568],[.379,.562],
        [.394,.558],
        [.118,.472],[.125,.463],[.180,.467],[.189,.463],[.189,.446],[.202,.448],[.213,.443],[.189,.432],[.200,.436],[.170,.379],[.103,.340],
        [.081,.337],[.059,.328],[.083,.323],[.068,.324],[.057,.314],[.068,.309],[.083,.299],[.059,.294],[.072,.282],[.162,.332],[.162,.322],
        [.167,.309],[.180,.308],[.250,.299],[.250,.286],[.246,.271],[.268,.273],[.307,.267],[.299,.261],[.290,.252],[.263,.324],[.144,.259],
        [.294,.252],[.312,.259],[.046,.229],[.075,.238],[.083,.217],[.094,.210],[.085,.205],[.123,.221],[.129,.212],[.153,.240],[.334,.137],
        [.384,.141],[.391,.128],[.404,.127],[.384,.118],[.123,.078],[.325,.086],[.316,.069],[.329,.065],[.312,.056],[.323,.050],[.305,.048],
        [.343,.054],[.336,.046],[.351,.048],[.305,.037],[.224,.071],[.259,.014],[.276,.014],[.285,.008],[.257,.000],[.268,.006],
        [.060,.304],[.075,.305],[.065,.335],[.080,.325],[.050,.290],[.312,.265],[.303,.264],[.296,.258],[.345,.062],[.330,.045],[.320,.058],
        [.317,.080],[.325,.075],[.336,.060],[.343,.040],[.260,.290],[.255,.280],[.248,.292],[.262,.270],[.275,.272],[.270,.007],[.280,.012]];

    // ----------------------------
    // Helpers
    // ----------------------------

    // draws the remaining spines, the library only gives us the two axis borders
    var framePlugin = {
        id: 'frame',
        afterDraw: function (chart) {
            var area = chart.chartArea;
            var ctx = chart.ctx;
            ctx.save();
            ctx.strokeStyle = '#6e6e6e';
            ctx.lineWidth = 2;
            ctx.strokeRect(area.left, area.top, area.right - area.left, area.bottom - area.top);
            ctx.restore();
        }
    };

    function makeAxis(leftOrBottom, size) {
        return {
            type: 'linear',
            min: -0.05,
            max: 1.05,
            border: { display: false },
            grid: { drawOnChartArea: false, drawTicks: true, tickLength: 6, color: '#6e6e6e', lineWidth: 1.5 },
            ticks: {
                color: '#1a1a1a',
                padding: leftOrBottom === 'x' ? 5 : 6,
                maxRotation: 0,
                autoSkip: false,
                font: { family: '"DejaVu Sans"', size: 27 },
                callback: function (value) { return value.toFixed(1); }
            },
            afterBuildTicks: function (axis) {
                axis.ticks = tickValues.map(function (v) { return { value: v }; });
            },
            afterFit: function (axis) {
                if (leftOrBottom === 'x') { axis.height = size; } else { axis.width = size; }
            }
        };
    }

    function makeChart(canvasId, names, colors, series, leftGutter, rightGutter) {
        var datasets = names.map(function (name, i) {
            return {
                label: name,
                data: series[i].map(function (p) { return { x: p[0], y: p[1] }; }),
                backgroundColor: colors[i],
                borderWidth: 0,
                pointRadius: 5.8,
                showLine: false,
                order: names.length - i     // later series sit on top
            };
        });
        return new Chart(document.getElementById(canvasId).getContext('2d'), {
            type: 'scatter',
            data: { datasets: datasets },
            options: {
                responsive: false,
                animation: false,
                layout: { padding: { top: 27, right: rightGutter, left: 0, bottom: 0 } },
                plugins: { legend: { display: false }, tooltip: { enabled: false } },
                scales: { x: makeAxis('x', 54), y: makeAxis('y', leftGutter) }
            },
            plugins: [framePlugin]
        });
    }

    // legend boxes are laid out by hand so that the two columns line up with the reference
    function makeLegend(boxId, names, colors, perColumn, firstX, columnGap, firstY, rowStep) {
        var box = document.getElementById(boxId);
        names.forEach(function (name, i) {
            var col = Math.floor(i / perColumn);
            var row = i % perColumn;
            var item = document.createElement('div');
            item.className = 'item';
            item.style.left = (firstX + col * columnGap) + 'px';
            item.style.top = (firstY + row * rowStep) + 'px';
            var dot = document.createElement('div');
            dot.className = 'dot';
            dot.style.background = colors[i];
            var text = document.createElement('span');
            text.textContent = name;
            item.appendChild(dot);
            item.appendChild(text);
            box.appendChild(item);
        });
    }

    makeChart('chartLeft', expressions, expressionColors,
        [neutral, sad, happy, relaxed, old, angry, agreement, disagreement, threatening, flirty, pensive, scared, distracted, sarcastic, still, laughing, sneaky, tired, speech],
        81.5, 12);
    makeChart('chartRight', speakers, speakerColors,
        [kieks, nidal, zhao, lu, zhang, carlos, jorge, itoi, daiki, jaime, wayne, li, ayana, luqi, hailing, kexin, gotoPts, reamey, yingqing, tiffnay, hanieh, scott, katya, solomon, lawrence, stewart, carla, sophie, catherine, miranda],
        78, 18);

    makeLegend('legendLeft', expressions, expressionColors, 15, 41, 307, 9, 57.6);
    makeLegend('legendRight', speakers, speakerColors, 15, 39, 310, 9, 57.2);
</script>
</body>
</html>
